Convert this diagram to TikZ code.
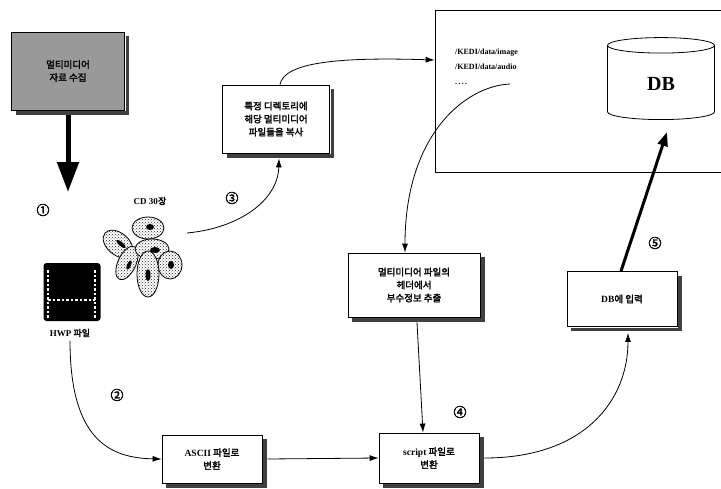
\documentclass[tikz,border=0pt]{standalone}
\usepackage{fontspec}
\setmainfont{Liberation Serif}
\newfontfamily\kr[FakeBold=2.4]{Noto Sans CJK KR}
\usetikzlibrary{arrows.meta,shapes.geometric,patterns,calc}

\begin{document}
\begin{tikzpicture}[x=1pt,y=-1pt,
    box/.style={draw, thick, fill=white, align=center, inner sep=2pt,
      font=\kr\fontsize{9.5}{13}\selectfont},
    boxshadow/.style={fill=black!75},
    num/.style={font=\kr\fontsize{13}{13}\selectfont},
    link/.style={thick, -{Latex[length=9pt,width=6pt]}},
    disc/.style={draw, thick, preaction={fill=white}, pattern=crosshatch dots, pattern color=black!85}]
  \useasboundingbox (0,0) rectangle (721,488);

  % boxes
  \node[box, fill=black!40, minimum width=113pt, minimum height=78pt] (collect) at (68,71) {멀티미디어\\자료 수집};
  \node[box, minimum width=107pt, minimum height=68pt] (copy) at (276,119) {특정 디렉토리에\\해당 멀티미디어\\파일들을 복사};
  \node[box, minimum width=132pt, minimum height=64pt] (header) at (414,285) {멀티미디어 파일의\\헤더에서\\부수정보 추출};
  \node[box, minimum width=110pt, minimum height=55pt] (input) at (622,299) {{\rmfamily\bfseries DB}에 입력};
  \node[box, minimum width=100pt, minimum height=48pt] (ascii) at (212,459) {{\rmfamily\bfseries ASCII} 파일로\\변환};
  \node[box, minimum width=100pt, minimum height=50pt] (script) at (429,458) {{\rmfamily\bfseries script} 파일로\\변환};

  % shadow strips on the right and bottom of each box
  \foreach \b in {collect,copy,header,input,ascii,script} {
    \path (\b.north east) coordinate (ne) (\b.south west) coordinate (sw) (\b.south east) coordinate (se);
    \fill[boxshadow] (ne) ++(0.6pt,-4.5pt) rectangle ($(se)+(4.5pt,-4.5pt)$);
    \fill[boxshadow] (sw) ++(4.5pt,-0.6pt) rectangle ($(se)+(4.5pt,-4.5pt)$);
  }

  % storage with database
  \node[draw, thick, minimum width=286pt, minimum height=162pt] (store) at (578,91) {};
  \node[anchor=north west, align=left, inner sep=0pt, font=\bfseries\fontsize{8}{15}\selectfont] (paths) at (455,49) {/KEDI/data/image\\/KEDI/data/audio\\.\,.\,.\,.};
  \coordinate (pathend) at (510,84);
  \node[draw, thick, cylinder, shape border rotate=90, aspect=0.45, minimum width=107pt, minimum height=82pt,
    font=\bfseries\fontsize{20}{20}\selectfont] (db) at (661,84) {\raisebox{-9pt}{DB}};

  % hwp file icon
  \node[fill=black, rounded corners=3pt, minimum width=57pt, minimum height=58pt] (hwp) at (72,292) {};
  \draw[white, dotted, line width=2.5pt] (48,270) -- (48,318);
  \draw[white, dotted, line width=2.5pt] (95,270) -- (95,318);
  \draw[white, dotted, line width=2.5pt] (48,300) -- (95,300);
  \node[font=\kr\fontsize{9}{10}\selectfont] (hwpname) at (70,333) {{\rmfamily\bfseries HWP} 파일};

  % pile of compact discs
  \draw[disc] (148,228) ellipse [x radius=16, y radius=11];
  \draw[disc] (118,244) ellipse [x radius=17, y radius=11, rotate=-40];
  \draw[disc] (127,263) ellipse [x radius=9, y radius=18, rotate=-25];
  \draw[disc] (152,249) ellipse [x radius=17, y radius=10];
  \draw[disc] (170,265) ellipse [x radius=12, y radius=14];
  \draw[disc] (148,274) ellipse [x radius=11, y radius=23];
  \fill (150,227) ellipse [x radius=4, y radius=3];
  \fill (121,244) ellipse [x radius=6, y radius=2, rotate=-40];
  \fill (155,250) ellipse [x radius=5, y radius=3];
  \fill (129,265) ellipse [x radius=2, y radius=5, rotate=-25];
  \fill (148,275) ellipse [x radius=2.5, y radius=6];
  \fill (171,265) ellipse [x radius=3, y radius=4];
  \node[font=\kr\fontsize{9}{10}\selectfont] (cdname) at (150,201) {{\rmfamily\bfseries CD 30}장};
  \coordinate (cd) at (187,233);

  % step numbers
  \node[num] (n1) at (43,210) {①};
  \node[num] (n2) at (117,395) {②};
  \node[num] (n3) at (232,198) {③};
  \node[num] (n4) at (460,412) {④};
  \node[num] (n5) at (655,243) {⑤};

  % flow
  \coordinate (down) at (68,192);
  \draw[line width=5pt, -{Triangle[length=30pt,width=21pt]}] ([yshift=-5pt]collect.south) -- (down);
  \draw[link] (cd) .. controls (240,228) and (278,200) .. ([xshift=3pt,yshift=-5pt]copy.south);
  \draw[link] ([xshift=4pt]copy.north) .. controls (284,62) and (340,57) .. ([yshift=31pt]store.west);
  \draw[link] (pathend) .. controls (465,86) and (405,135) .. ([xshift=-9pt]header.north);
  \draw[link] ([xshift=3pt,yshift=-5pt]header.south) -- ([xshift=-6pt]script.north);
  \draw[link] (hwpname.south) .. controls (70,440) and (110,458) .. (ascii.west);
  \draw[link] ([xshift=5pt]ascii.east) -- (script.west);
  \draw[link] ([xshift=5pt]script.east) .. controls (585,458) and (628,400) .. ([xshift=6pt,yshift=-6pt]input.south);
  \draw[line width=3pt, -{Triangle[length=14pt,width=10pt]}] ([xshift=-1pt]input.north) -- ([xshift=6pt,yshift=-12pt]db.south);

\end{tikzpicture}
\end{document}
